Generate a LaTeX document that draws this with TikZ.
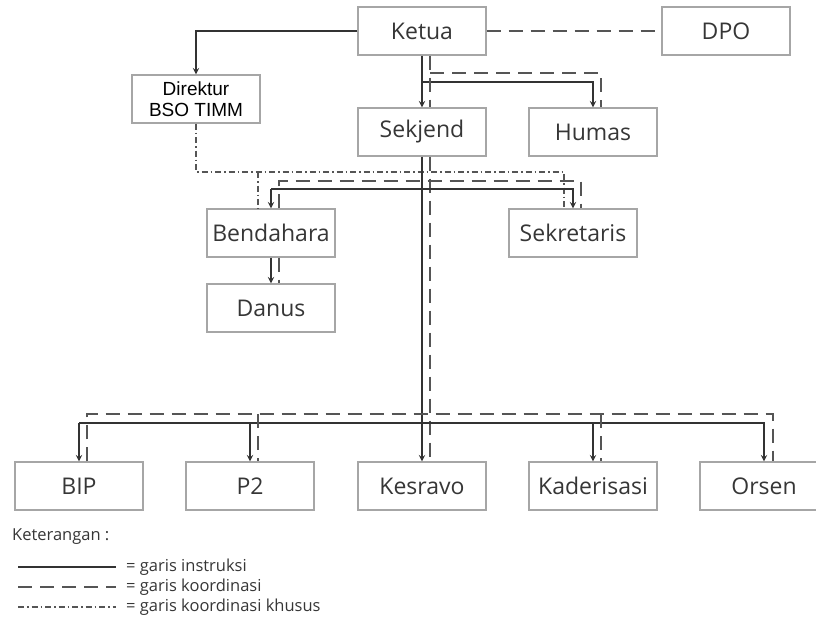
\documentclass[tikz,border=0pt]{standalone}
\usepackage{fontspec}
\setmainfont{Open Sans}
\newfontfamily\arialfont{Liberation Sans}
\definecolor{boxgray}{HTML}{A6A6A6}
\definecolor{linegray}{HTML}{333333}
\definecolor{dashgray}{HTML}{555555}
\definecolor{textgray}{HTML}{363636}

\begin{document}
\begin{tikzpicture}
[
x=1pt,y=-1pt,
unit/.style={draw=boxgray,line width=1.2pt,minimum width=128pt,minimum height=48pt,inner sep=0pt,text=textgray,font=\fontsize{23}{26}\selectfont},
instr/.style={draw=linegray,line width=1.8pt},
koord/.style={draw=dashgray,line width=2.4pt,dash pattern=on 14pt off 8pt},
khusus/.style={draw=dashgray,line width=1.8pt,dash pattern=on 6pt off 3pt on 1.5pt off 3pt},
legend/.style={inner sep=0pt,anchor=west,text=textgray,font=\fontsize{16.5}{19}\selectfont},
]
\useasboundingbox (0,0) rectangle (816,627);

%Place the nodes
\node[unit] (ketua) at (422,31) {Ketua};
\node[unit] (dpo) at (726,31) {DPO};
\node[unit,align=center,text=black,font=\arialfont\fontsize{19}{21}\selectfont] (direktur) at (196,99) {Direktur\\BSO TIMM};
\node[unit] (sekjend) at (422,132) {Sekjend};
\node[unit] (humas) at (593,132) {Humas};
\node[unit] (bendahara) at (271,233) {Bendahara};
\node[unit] (sekretaris) at (573,233) {Sekretaris};
\node[unit] (danus) at (271,308) {Danus};
\node[unit] (bip) at (79,486) {BIP};
\node[unit] (ptwo) at (250,486) {P2};
\node[unit] (kesravo) at (422,486) {Kesravo};
\node[unit] (kaderisasi) at (593,486) {Kaderisasi};
\node[unit] (orsen) at (764,486) {Orsen};

%Junction points
\coordinate (hj) at (422,82);
\coordinate (hjd) at (430,73);
\coordinate (bj) at (271,189);
\coordinate (bjd) at (279,181);
\coordinate (sjd) at (581,181);
\coordinate (kb) at (258,172);
\coordinate (kj) at (564,172);
\coordinate (lj) at (79,423);
\coordinate (bipd) at (87,414);
\coordinate (ptwod) at (258,414);
\coordinate (kaderd) at (601,414);
\coordinate (orsend) at (773,414);

%Draw the connections
\draw[koord] (ketua.east) -- (dpo.west);
\draw[instr,-stealth] (ketua.west) -| (direktur.north);
\draw[instr,-stealth] (ketua.south) -- (sekjend.north);
\draw[instr,-stealth] (hj) -| (humas.north);
\draw[koord] ([xshift=8pt]ketua.south) -- ([xshift=8pt]sekjend.north);
\draw[koord] (hjd) -| ([xshift=8pt]humas.north);

\draw[khusus] (direktur.south) |- (kj) -- (kj |- sekretaris.north);
\draw[khusus] (kb) -- (kb |- bendahara.north);

\draw[instr,-stealth] (sekjend.south) -- (kesravo.north);
\draw[koord] ([xshift=8pt]sekjend.south) -- ([xshift=8pt]kesravo.north);
\draw[instr,-stealth] (bj) -- (bendahara.north);
\draw[instr,-stealth] (bj) -| (sekretaris.north);
\draw[koord] (bjd |- bendahara.north) -- (bjd) -- (sjd) -- (sjd |- sekretaris.north);

\draw[instr,-stealth] (bendahara.south) -- (danus.north);
\draw[koord] ([xshift=8pt]bendahara.south) -- ([xshift=8pt]danus.north);

\draw[instr,-stealth] (lj) -- (bip.north);
\draw[instr,-stealth] (lj) -| (orsen.north);
\foreach \u in {ptwo,kaderisasi}
  \draw[instr,-stealth] (\u.north |- lj) -- (\u.north);
\draw[koord] (bipd |- bip.north) -- (bipd) -- (orsend) -- (orsend |- orsen.north);
\draw[koord] (ptwod) -- (ptwod |- ptwo.north);
\draw[koord] (kaderd) -- (kaderd |- kaderisasi.north);

%Legend
\node[legend] (keterangan) at (12,537) {Keterangan :};
\foreach \s/\t [count=\i] in {instr/garis instruksi,koord/garis koordinasi,khusus/garis koordinasi khusus}
{
  \draw[\s,line width=1.6pt] (18,547+20*\i) -- (116,547+20*\i);
  \node[legend] (leg\i) at (126,547+20*\i) {= \t};
}
\end{tikzpicture}
\end{document}
